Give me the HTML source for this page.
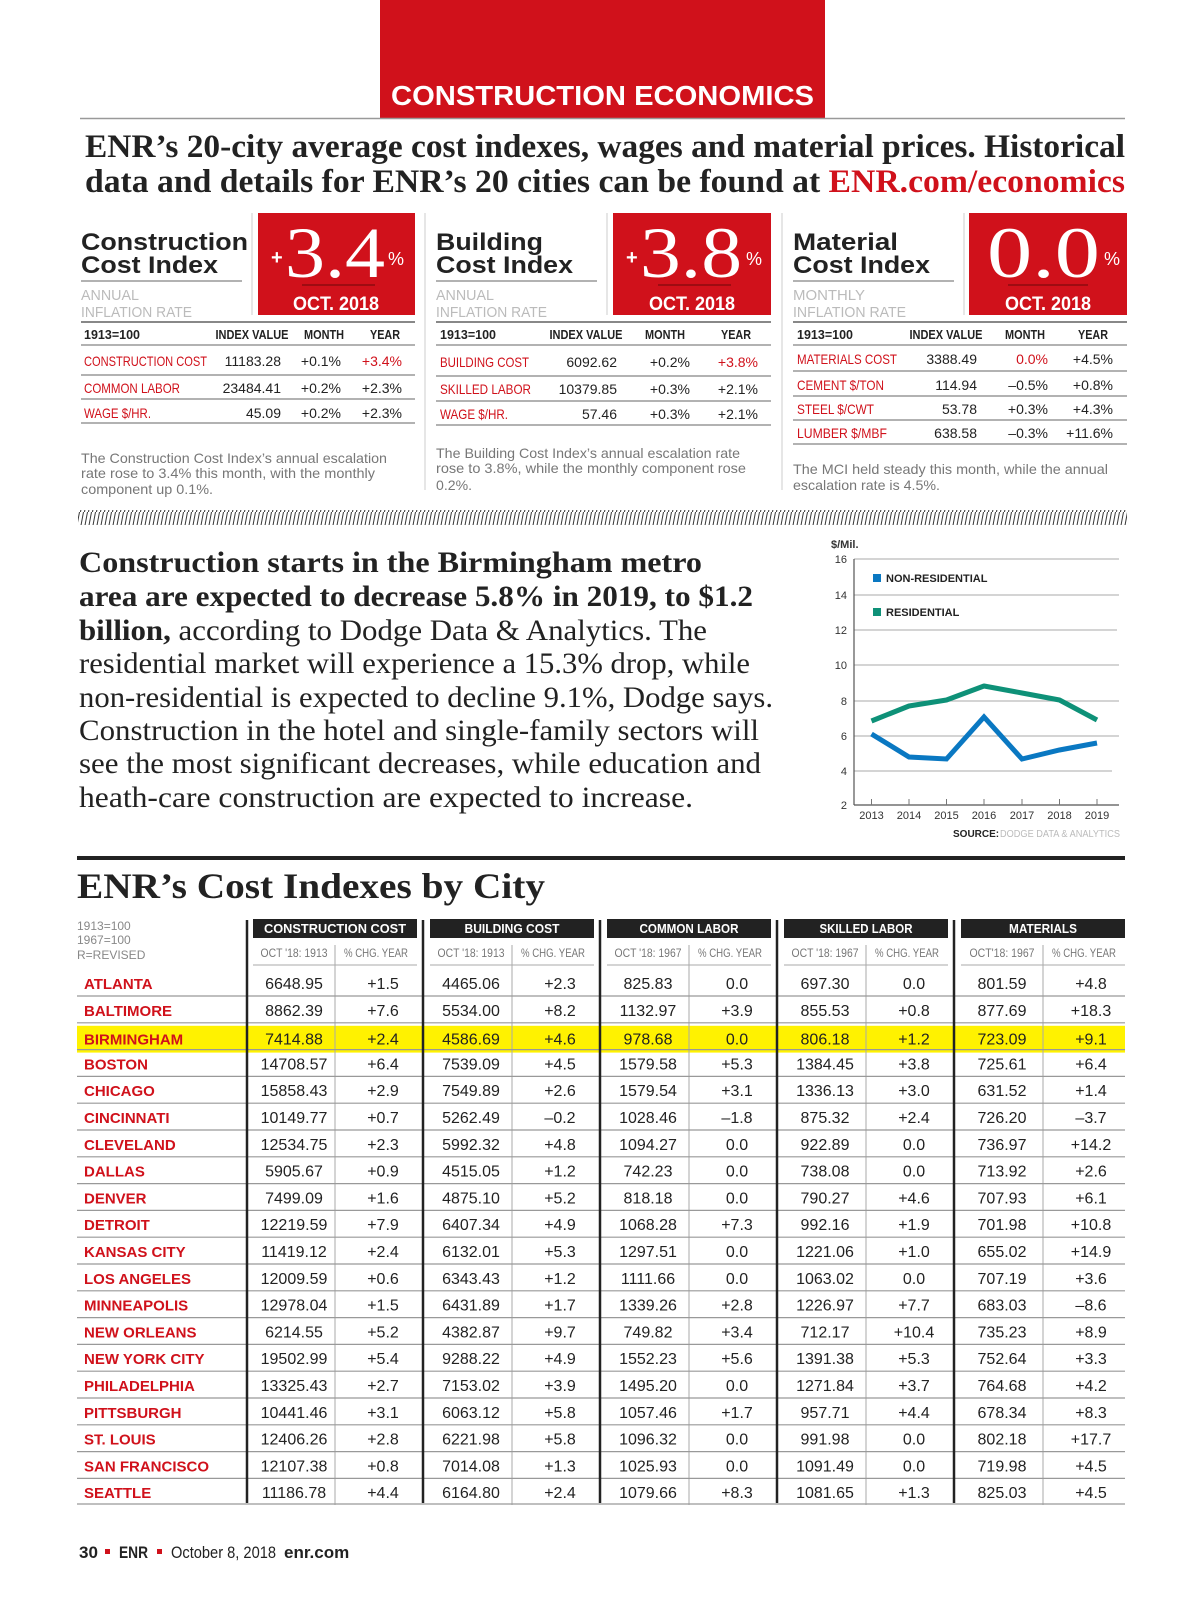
<!DOCTYPE html>
<html><head><meta charset="utf-8">
<style>
html,body{margin:0;padding:0;background:#fff;}
svg{display:block;}
.sb{font-family:"Liberation Sans",sans-serif;font-weight:bold;}
.s{font-family:"Liberation Sans",sans-serif;}
.sf{font-family:"Liberation Serif",serif;}
.num{font-family:"Liberation Sans Narrow","Liberation Sans",sans-serif;font-size:16px;fill:#222;text-anchor:middle;}
.city{font-family:"Liberation Sans Narrow","Liberation Sans",sans-serif;font-weight:bold;font-size:15px;fill:#d0111b;}
.ph{font-family:"Liberation Sans Narrow","Liberation Sans",sans-serif;font-weight:bold;font-size:12.5px;fill:#222;}
.pr{font-family:"Liberation Sans Narrow","Liberation Sans",sans-serif;font-size:14px;fill:#222;text-anchor:end;}
.pl{font-family:"Liberation Sans Narrow","Liberation Sans",sans-serif;font-size:14px;fill:#d0111b;}
.desc{font-family:"Liberation Sans",sans-serif;font-size:14px;fill:#777;}
.sub{font-family:"Liberation Sans Narrow","Liberation Sans",sans-serif;font-size:12px;fill:#777;text-anchor:middle;}
</style></head>
<body>
<svg width="1200" height="1600" viewBox="0 0 1200 1600" xmlns="http://www.w3.org/2000/svg">
<defs>
<pattern id="hatch" width="4" height="16" patternUnits="userSpaceOnUse">
<line x1="0.5" y1="16" x2="3.5" y2="0" stroke="#333" stroke-width="1"/>
</pattern>
</defs>
<rect width="1200" height="1600" fill="#fff"/>

<!-- Header -->
<rect x="380" y="0" width="445" height="118" fill="#d0111b"/>
<text x="391" y="105" class="sb" font-size="28" fill="#fff" textLength="423" lengthAdjust="spacingAndGlyphs">CONSTRUCTION ECONOMICS</text>
<line x1="80" y1="118.5" x2="1125" y2="118.5" stroke="#999" stroke-width="1.5"/>

<text x="85" y="157" class="sf" font-weight="bold" font-size="33" fill="#222" textLength="1040" lengthAdjust="spacingAndGlyphs">ENR’s 20-city average cost indexes, wages and material prices. Historical</text>
<text x="85" y="192" class="sf" font-weight="bold" font-size="33" fill="#222" textLength="1040" lengthAdjust="spacingAndGlyphs">data and details for ENR’s 20 cities can be found at <tspan fill="#d0111b">ENR.com/economics</tspan></text>

<!-- Panel separators -->
<line x1="425" y1="213" x2="425" y2="490" stroke="#ccc"/>
<line x1="782" y1="213" x2="782" y2="490" stroke="#ccc"/>

<!-- Panel 1 -->
<text x="81" y="250" class="sb" font-size="24" fill="#222" textLength="167" lengthAdjust="spacingAndGlyphs">Construction</text>
<text x="81" y="273" class="sb" font-size="24" fill="#222" textLength="137" lengthAdjust="spacingAndGlyphs">Cost Index</text>
<line x1="81" y1="281" x2="242" y2="281" stroke="#999" stroke-width="1.5"/>
<text x="81" y="300" class="s" font-size="15" fill="#bbb" textLength="58" lengthAdjust="spacingAndGlyphs">ANNUAL</text>
<text x="81" y="317" class="s" font-size="15" fill="#bbb" textLength="111" lengthAdjust="spacingAndGlyphs">INFLATION RATE</text>
<line x1="252" y1="213" x2="252" y2="315" stroke="#ccc"/>
<rect x="258" y="213" width="157" height="102" fill="#d0111b"/>
<text x="271" y="264" class="sb" font-size="20" fill="#fff">+</text>
<text x="285" y="277" class="sf" font-size="72" fill="#fff" textLength="100" lengthAdjust="spacingAndGlyphs">3.4</text>
<text x="388" y="265" class="s" font-size="18" fill="#fff">%</text>
<line x1="302" y1="285" x2="375" y2="285" stroke="#8e0a10" stroke-width="1.5"/>
<text x="336" y="310" class="sb" font-size="19" fill="#fff" text-anchor="middle" textLength="86" lengthAdjust="spacingAndGlyphs">OCT. 2018</text>

<line x1="81" y1="322" x2="415" y2="322" stroke="#888" stroke-width="2"/>
<text x="84" y="339" class="ph" textLength="56" lengthAdjust="spacingAndGlyphs">1913=100</text>
<text x="252" y="339" class="ph" text-anchor="middle" textLength="73" lengthAdjust="spacingAndGlyphs">INDEX VALUE</text>
<text x="324" y="339" class="ph" text-anchor="middle" textLength="40" lengthAdjust="spacingAndGlyphs">MONTH</text>
<text x="385" y="339" class="ph" text-anchor="middle" textLength="30" lengthAdjust="spacingAndGlyphs">YEAR</text>
<line x1="81" y1="345" x2="415" y2="345" stroke="#999" stroke-width="1.5"/>
<text x="84" y="366" class="pl" textLength="123" lengthAdjust="spacingAndGlyphs">CONSTRUCTION COST</text><text x="281" y="366" class="pr">11183.28</text><text x="341" y="366" class="pr">+0.1%</text><text x="402" y="366" class="pr" style="fill:#d0111b">+3.4%</text>
<line x1="81" y1="375" x2="415" y2="375" stroke="#999" stroke-width="1.5"/>
<text x="84" y="393" class="pl" textLength="96" lengthAdjust="spacingAndGlyphs">COMMON LABOR</text><text x="281" y="393" class="pr">23484.41</text><text x="341" y="393" class="pr">+0.2%</text><text x="402" y="393" class="pr">+2.3%</text>
<line x1="81" y1="399" x2="415" y2="399" stroke="#999" stroke-width="1.5"/>
<text x="84" y="418" class="pl" textLength="67" lengthAdjust="spacingAndGlyphs">WAGE $/HR.</text><text x="281" y="418" class="pr">45.09</text><text x="341" y="418" class="pr">+0.2%</text><text x="402" y="418" class="pr">+2.3%</text>
<line x1="81" y1="423" x2="415" y2="423" stroke="#999" stroke-width="1.5"/>
<text x="81" y="463" class="desc" textLength="306" lengthAdjust="spacingAndGlyphs">The Construction Cost Index’s annual escalation</text>
<text x="81" y="478" class="desc" textLength="294" lengthAdjust="spacingAndGlyphs">rate rose to 3.4% this month, with the monthly</text>
<text x="81" y="494" class="desc" textLength="132" lengthAdjust="spacingAndGlyphs">component up 0.1%.</text>

<!-- Panel 2 -->
<text x="436" y="250" class="sb" font-size="24" fill="#222" textLength="107" lengthAdjust="spacingAndGlyphs">Building</text>
<text x="436" y="273" class="sb" font-size="24" fill="#222" textLength="137" lengthAdjust="spacingAndGlyphs">Cost Index</text>
<line x1="436" y1="281" x2="597" y2="281" stroke="#999" stroke-width="1.5"/>
<text x="436" y="300" class="s" font-size="15" fill="#bbb" textLength="58" lengthAdjust="spacingAndGlyphs">ANNUAL</text>
<text x="436" y="317" class="s" font-size="15" fill="#bbb" textLength="111" lengthAdjust="spacingAndGlyphs">INFLATION RATE</text>
<line x1="607" y1="213" x2="607" y2="315" stroke="#ccc"/>
<rect x="613" y="213" width="158" height="102" fill="#d0111b"/>
<text x="626" y="264" class="sb" font-size="20" fill="#fff">+</text>
<text x="640" y="277" class="sf" font-size="72" fill="#fff" textLength="102" lengthAdjust="spacingAndGlyphs">3.8</text>
<text x="746" y="265" class="s" font-size="18" fill="#fff">%</text>
<line x1="658" y1="285" x2="731" y2="285" stroke="#8e0a10" stroke-width="1.5"/>
<text x="692" y="310" class="sb" font-size="19" fill="#fff" text-anchor="middle" textLength="86" lengthAdjust="spacingAndGlyphs">OCT. 2018</text>

<line x1="436" y1="322" x2="771" y2="322" stroke="#888" stroke-width="2"/>
<text x="440" y="339" class="ph" textLength="56" lengthAdjust="spacingAndGlyphs">1913=100</text>
<text x="586" y="339" class="ph" text-anchor="middle" textLength="73" lengthAdjust="spacingAndGlyphs">INDEX VALUE</text>
<text x="665" y="339" class="ph" text-anchor="middle" textLength="40" lengthAdjust="spacingAndGlyphs">MONTH</text>
<text x="736" y="339" class="ph" text-anchor="middle" textLength="30" lengthAdjust="spacingAndGlyphs">YEAR</text>
<line x1="436" y1="345" x2="771" y2="345" stroke="#999" stroke-width="1.5"/>
<text x="440" y="367" class="pl" textLength="89" lengthAdjust="spacingAndGlyphs">BUILDING COST</text><text x="617" y="367" class="pr">6092.62</text><text x="690" y="367" class="pr">+0.2%</text><text x="758" y="367" class="pr" style="fill:#d0111b">+3.8%</text>
<line x1="436" y1="376" x2="771" y2="376" stroke="#999" stroke-width="1.5"/>
<text x="440" y="394" class="pl" textLength="91" lengthAdjust="spacingAndGlyphs">SKILLED LABOR</text><text x="617" y="394" class="pr">10379.85</text><text x="690" y="394" class="pr">+0.3%</text><text x="758" y="394" class="pr">+2.1%</text>
<line x1="436" y1="401" x2="771" y2="401" stroke="#999" stroke-width="1.5"/>
<text x="440" y="419" class="pl" textLength="68" lengthAdjust="spacingAndGlyphs">WAGE $/HR.</text><text x="617" y="419" class="pr">57.46</text><text x="690" y="419" class="pr">+0.3%</text><text x="758" y="419" class="pr">+2.1%</text>
<line x1="436" y1="425" x2="771" y2="425" stroke="#999" stroke-width="1.5"/>
<text x="436" y="458" class="desc" textLength="304" lengthAdjust="spacingAndGlyphs">The Building Cost Index’s annual escalation rate</text>
<text x="436" y="473" class="desc" textLength="310" lengthAdjust="spacingAndGlyphs">rose to 3.8%, while the monthly component rose</text>
<text x="436" y="490" class="desc" textLength="36" lengthAdjust="spacingAndGlyphs">0.2%.</text>

<!-- Panel 3 -->
<text x="793" y="250" class="sb" font-size="24" fill="#222" textLength="105" lengthAdjust="spacingAndGlyphs">Material</text>
<text x="793" y="273" class="sb" font-size="24" fill="#222" textLength="137" lengthAdjust="spacingAndGlyphs">Cost Index</text>
<line x1="793" y1="281" x2="954" y2="281" stroke="#999" stroke-width="1.5"/>
<text x="793" y="300" class="s" font-size="15" fill="#bbb" textLength="72" lengthAdjust="spacingAndGlyphs">MONTHLY</text>
<text x="793" y="317" class="s" font-size="15" fill="#bbb" textLength="113" lengthAdjust="spacingAndGlyphs">INFLATION RATE</text>
<line x1="964" y1="213" x2="964" y2="315" stroke="#ccc"/>
<rect x="969" y="213" width="158" height="102" fill="#d0111b"/>
<text x="987" y="277" class="sf" font-size="72" fill="#fff" textLength="113" lengthAdjust="spacingAndGlyphs">0.0</text>
<text x="1104" y="265" class="s" font-size="18" fill="#fff">%</text>
<line x1="1008" y1="285" x2="1088" y2="285" stroke="#8e0a10" stroke-width="1.5"/>
<text x="1048" y="310" class="sb" font-size="19" fill="#fff" text-anchor="middle" textLength="86" lengthAdjust="spacingAndGlyphs">OCT. 2018</text>

<line x1="793" y1="322" x2="1127" y2="322" stroke="#888" stroke-width="2"/>
<text x="797" y="339" class="ph" textLength="56" lengthAdjust="spacingAndGlyphs">1913=100</text>
<text x="946" y="339" class="ph" text-anchor="middle" textLength="73" lengthAdjust="spacingAndGlyphs">INDEX VALUE</text>
<text x="1025" y="339" class="ph" text-anchor="middle" textLength="40" lengthAdjust="spacingAndGlyphs">MONTH</text>
<text x="1093" y="339" class="ph" text-anchor="middle" textLength="30" lengthAdjust="spacingAndGlyphs">YEAR</text>
<line x1="793" y1="345" x2="1127" y2="345" stroke="#999" stroke-width="1.5"/>
<text x="797" y="364" class="pl" textLength="100" lengthAdjust="spacingAndGlyphs">MATERIALS COST</text><text x="977" y="364" class="pr">3388.49</text><text x="1048" y="364" class="pr" style="fill:#d0111b">0.0%</text><text x="1113" y="364" class="pr">+4.5%</text>
<line x1="793" y1="371" x2="1127" y2="371" stroke="#999" stroke-width="1.5"/>
<text x="797" y="390" class="pl" textLength="87" lengthAdjust="spacingAndGlyphs">CEMENT $/TON</text><text x="977" y="390" class="pr">114.94</text><text x="1048" y="390" class="pr">–0.5%</text><text x="1113" y="390" class="pr">+0.8%</text>
<line x1="793" y1="396" x2="1127" y2="396" stroke="#999" stroke-width="1.5"/>
<text x="797" y="414" class="pl" textLength="77" lengthAdjust="spacingAndGlyphs">STEEL $/CWT</text><text x="977" y="414" class="pr">53.78</text><text x="1048" y="414" class="pr">+0.3%</text><text x="1113" y="414" class="pr">+4.3%</text>
<line x1="793" y1="420" x2="1127" y2="420" stroke="#999" stroke-width="1.5"/>
<text x="797" y="438" class="pl" textLength="90" lengthAdjust="spacingAndGlyphs">LUMBER $/MBF</text><text x="977" y="438" class="pr">638.58</text><text x="1048" y="438" class="pr">–0.3%</text><text x="1113" y="438" class="pr">+11.6%</text>
<line x1="793" y1="444" x2="1127" y2="444" stroke="#999" stroke-width="1.5"/>
<text x="793" y="474" class="desc" textLength="315" lengthAdjust="spacingAndGlyphs">The MCI held steady this month, while the annual</text>
<text x="793" y="490" class="desc" textLength="147" lengthAdjust="spacingAndGlyphs">escalation rate is 4.5%.</text>

<!-- Hatch -->
<rect x="78" y="510" width="1049" height="15" fill="url(#hatch)"/>

<!-- Paragraph -->
<g class="sf" font-size="30" fill="#222">
<text x="79" y="572" font-weight="bold" textLength="623" lengthAdjust="spacingAndGlyphs">Construction starts in the Birmingham metro</text>
<text x="79" y="606" font-weight="bold" textLength="674" lengthAdjust="spacingAndGlyphs">area are expected to decrease 5.8% in 2019, to $1.2</text>
<text x="79" y="640" textLength="628" lengthAdjust="spacingAndGlyphs"><tspan font-weight="bold">billion,</tspan> according to Dodge Data &amp; Analytics. The</text>
<text x="79" y="673" textLength="671" lengthAdjust="spacingAndGlyphs">residential market will experience a 15.3% drop, while</text>
<text x="79" y="707" textLength="694" lengthAdjust="spacingAndGlyphs">non-residential is expected to decline 9.1%, Dodge says.</text>
<text x="79" y="740" textLength="680" lengthAdjust="spacingAndGlyphs">Construction in the hotel and single-family sectors will</text>
<text x="79" y="773" textLength="682" lengthAdjust="spacingAndGlyphs">see the most significant decreases, while education and</text>
<text x="79" y="807" textLength="614" lengthAdjust="spacingAndGlyphs">heath-care construction are expected to increase.</text>
</g>

<!-- Chart -->
<text x="831" y="548" class="sb" font-size="11" fill="#333">$/Mil.</text>
<g stroke="#bbb" stroke-width="1.2">
<line x1="854" y1="559" x2="1119" y2="559"/>
<line x1="854" y1="595" x2="1119" y2="595"/>
<line x1="854" y1="630" x2="1117" y2="630"/>
<line x1="854" y1="665" x2="1119" y2="665"/>
<line x1="854" y1="701" x2="1119" y2="701"/>
<line x1="854" y1="736" x2="1119" y2="736"/>
<line x1="854" y1="771" x2="1112" y2="771"/>
</g>
<line x1="854" y1="559" x2="854" y2="805" stroke="#555" stroke-width="1.2"/>
<line x1="854" y1="805" x2="1119" y2="805" stroke="#555" stroke-width="1.2"/>
<g stroke="#777" stroke-width="1">
<line x1="871.5" y1="799" x2="871.5" y2="805"/><line x1="909" y1="799" x2="909" y2="805"/><line x1="946.5" y1="799" x2="946.5" y2="805"/><line x1="984" y1="799" x2="984" y2="805"/><line x1="1022" y1="799" x2="1022" y2="805"/><line x1="1059.5" y1="799" x2="1059.5" y2="805"/><line x1="1097" y1="799" x2="1097" y2="805"/>
</g>
<g class="s" font-size="11" fill="#333" text-anchor="end">
<text x="847" y="563">16</text><text x="847" y="599">14</text><text x="847" y="634">12</text><text x="847" y="669">10</text><text x="847" y="705">8</text><text x="847" y="740">6</text><text x="847" y="775">4</text><text x="847" y="809">2</text>
</g>
<g class="s" font-size="11" fill="#333" text-anchor="middle">
<text x="871.5" y="819">2013</text><text x="909" y="819">2014</text><text x="946.5" y="819">2015</text><text x="984" y="819">2016</text><text x="1022" y="819">2017</text><text x="1059.5" y="819">2018</text><text x="1097" y="819">2019</text>
</g>
<rect x="873" y="574" width="8" height="8" fill="#0a78c2"/>
<text x="886" y="582" class="sb" font-size="11" fill="#222">NON-RESIDENTIAL</text>
<rect x="873" y="608" width="8" height="8" fill="#0e9178"/>
<text x="886" y="616" class="sb" font-size="11" fill="#222">RESIDENTIAL</text>
<polyline points="871.5,721 909,706 946.5,700 984,686 1022,693 1059.5,700 1097,720" fill="none" stroke="#0e9178" stroke-width="5" stroke-linejoin="round"/>
<polyline points="871.5,734 909,757 946.5,759 984,717 1022,759 1059.5,750 1097,743" fill="none" stroke="#0a78c2" stroke-width="5" stroke-linejoin="miter"/>
<text x="953" y="837" class="sb" font-size="10" fill="#222">SOURCE:</text>
<text x="1000" y="837" class="s" font-size="10" fill="#bbb" textLength="120" lengthAdjust="spacingAndGlyphs">DODGE DATA &amp; ANALYTICS</text>

<!-- City table -->
<rect x="77" y="856" width="1048" height="4" fill="#222"/>
<text x="77" y="898" class="sf" font-weight="bold" font-size="36" fill="#222" textLength="468" lengthAdjust="spacingAndGlyphs">ENR’s Cost Indexes by City</text>
<g class="s" font-size="12" fill="#888">
<text x="77" y="930">1913=100</text><text x="77" y="944">1967=100</text><text x="77" y="959">R=REVISED</text>
</g>

<rect x="77" y="1025.8" width="1048" height="26.8" fill="#fff200"/>

<g fill="#222">
<rect x="253" y="919" width="164" height="19"/><rect x="430" y="919" width="164" height="19"/><rect x="607" y="919" width="164" height="19"/><rect x="784" y="919" width="164" height="19"/><rect x="961" y="919" width="164" height="19"/>
</g>
<g class="sb" font-size="12.5" fill="#fff" text-anchor="middle">
<text x="335" y="933" textLength="142" lengthAdjust="spacingAndGlyphs">CONSTRUCTION COST</text><text x="512" y="933" textLength="95" lengthAdjust="spacingAndGlyphs">BUILDING COST</text><text x="689" y="933" textLength="99" lengthAdjust="spacingAndGlyphs">COMMON LABOR</text><text x="866" y="933" textLength="93" lengthAdjust="spacingAndGlyphs">SKILLED LABOR</text><text x="1043" y="933" textLength="68" lengthAdjust="spacingAndGlyphs">MATERIALS</text>
</g>
<g>
<text x="294" y="957" class="sub" textLength="67" lengthAdjust="spacingAndGlyphs">OCT '18: 1913</text><text x="376" y="957" class="sub" textLength="64" lengthAdjust="spacingAndGlyphs">% CHG. YEAR</text>
<text x="471" y="957" class="sub" textLength="67" lengthAdjust="spacingAndGlyphs">OCT '18: 1913</text><text x="553" y="957" class="sub" textLength="64" lengthAdjust="spacingAndGlyphs">% CHG. YEAR</text>
<text x="648" y="957" class="sub" textLength="67" lengthAdjust="spacingAndGlyphs">OCT '18: 1967</text><text x="730" y="957" class="sub" textLength="64" lengthAdjust="spacingAndGlyphs">% CHG. YEAR</text>
<text x="825" y="957" class="sub" textLength="67" lengthAdjust="spacingAndGlyphs">OCT '18: 1967</text><text x="907" y="957" class="sub" textLength="64" lengthAdjust="spacingAndGlyphs">% CHG. YEAR</text>
<text x="1002" y="957" class="sub" textLength="65" lengthAdjust="spacingAndGlyphs">OCT'18: 1967</text><text x="1084" y="957" class="sub" textLength="64" lengthAdjust="spacingAndGlyphs">% CHG. YEAR</text>
</g>
<g stroke="#aaa" stroke-width="1">
<line x1="253" y1="965" x2="417" y2="965"/><line x1="430" y1="965" x2="594" y2="965"/><line x1="607" y1="965" x2="771" y2="965"/><line x1="784" y1="965" x2="948" y2="965"/><line x1="961" y1="965" x2="1125" y2="965"/>
<line x1="335" y1="945" x2="335" y2="1505"/><line x1="512" y1="945" x2="512" y2="1505"/><line x1="689" y1="945" x2="689" y2="1505"/><line x1="866" y1="945" x2="866" y2="1505"/><line x1="1043" y1="945" x2="1043" y2="1505"/>
</g>
<g stroke="#999" stroke-width="1.2">
<line x1="77" y1="996" x2="1125" y2="996"/><line x1="77" y1="1022.8" x2="1125" y2="1022.8"/><line x1="77" y1="1049.6" x2="1125" y2="1049.6"/><line x1="77" y1="1076.4" x2="1125" y2="1076.4"/><line x1="77" y1="1103.2" x2="1125" y2="1103.2"/><line x1="77" y1="1130" x2="1125" y2="1130"/><line x1="77" y1="1156.8" x2="1125" y2="1156.8"/><line x1="77" y1="1183.6" x2="1125" y2="1183.6"/><line x1="77" y1="1210.4" x2="1125" y2="1210.4"/><line x1="77" y1="1237.2" x2="1125" y2="1237.2"/><line x1="77" y1="1264" x2="1125" y2="1264"/><line x1="77" y1="1290.8" x2="1125" y2="1290.8"/><line x1="77" y1="1317.6" x2="1125" y2="1317.6"/><line x1="77" y1="1344.4" x2="1125" y2="1344.4"/><line x1="77" y1="1371.2" x2="1125" y2="1371.2"/><line x1="77" y1="1398" x2="1125" y2="1398"/><line x1="77" y1="1424.8" x2="1125" y2="1424.8"/><line x1="77" y1="1451.6" x2="1125" y2="1451.6"/><line x1="77" y1="1478.4" x2="1125" y2="1478.4"/><line x1="77" y1="1504" x2="1125" y2="1504"/>
</g>
<g stroke="#222" stroke-width="2.5">
<line x1="247" y1="920" x2="247" y2="1503"/><line x1="423" y1="920" x2="423" y2="1503"/><line x1="600" y1="920" x2="600" y2="1503"/><line x1="777" y1="920" x2="777" y2="1503"/><line x1="954" y1="920" x2="954" y2="1503"/>
</g>

<g transform="translate(0,989)"><text x="84" class="city">ATLANTA</text><text x="294" class="num">6648.95</text><text x="383" class="num">+1.5</text><text x="471" class="num">4465.06</text><text x="560" class="num">+2.3</text><text x="648" class="num">825.83</text><text x="737" class="num">0.0</text><text x="825" class="num">697.30</text><text x="914" class="num">0.0</text><text x="1002" class="num">801.59</text><text x="1091" class="num">+4.8</text></g>
<g transform="translate(0,1015.8)"><text x="84" class="city">BALTIMORE</text><text x="294" class="num">8862.39</text><text x="383" class="num">+7.6</text><text x="471" class="num">5534.00</text><text x="560" class="num">+8.2</text><text x="648" class="num">1132.97</text><text x="737" class="num">+3.9</text><text x="825" class="num">855.53</text><text x="914" class="num">+0.8</text><text x="1002" class="num">877.69</text><text x="1091" class="num">+18.3</text></g>
<g transform="translate(0,1044.6)"><text x="84" class="city">BIRMINGHAM</text><text x="294" class="num">7414.88</text><text x="383" class="num">+2.4</text><text x="471" class="num">4586.69</text><text x="560" class="num">+4.6</text><text x="648" class="num">978.68</text><text x="737" class="num">0.0</text><text x="825" class="num">806.18</text><text x="914" class="num">+1.2</text><text x="1002" class="num">723.09</text><text x="1091" class="num">+9.1</text></g>
<g transform="translate(0,1069.4)"><text x="84" class="city">BOSTON</text><text x="294" class="num">14708.57</text><text x="383" class="num">+6.4</text><text x="471" class="num">7539.09</text><text x="560" class="num">+4.5</text><text x="648" class="num">1579.58</text><text x="737" class="num">+5.3</text><text x="825" class="num">1384.45</text><text x="914" class="num">+3.8</text><text x="1002" class="num">725.61</text><text x="1091" class="num">+6.4</text></g>
<g transform="translate(0,1096.2)"><text x="84" class="city">CHICAGO</text><text x="294" class="num">15858.43</text><text x="383" class="num">+2.9</text><text x="471" class="num">7549.89</text><text x="560" class="num">+2.6</text><text x="648" class="num">1579.54</text><text x="737" class="num">+3.1</text><text x="825" class="num">1336.13</text><text x="914" class="num">+3.0</text><text x="1002" class="num">631.52</text><text x="1091" class="num">+1.4</text></g>
<g transform="translate(0,1123)"><text x="84" class="city">CINCINNATI</text><text x="294" class="num">10149.77</text><text x="383" class="num">+0.7</text><text x="471" class="num">5262.49</text><text x="560" class="num">–0.2</text><text x="648" class="num">1028.46</text><text x="737" class="num">–1.8</text><text x="825" class="num">875.32</text><text x="914" class="num">+2.4</text><text x="1002" class="num">726.20</text><text x="1091" class="num">–3.7</text></g>
<g transform="translate(0,1149.8)"><text x="84" class="city">CLEVELAND</text><text x="294" class="num">12534.75</text><text x="383" class="num">+2.3</text><text x="471" class="num">5992.32</text><text x="560" class="num">+4.8</text><text x="648" class="num">1094.27</text><text x="737" class="num">0.0</text><text x="825" class="num">922.89</text><text x="914" class="num">0.0</text><text x="1002" class="num">736.97</text><text x="1091" class="num">+14.2</text></g>
<g transform="translate(0,1176.6)"><text x="84" class="city">DALLAS</text><text x="294" class="num">5905.67</text><text x="383" class="num">+0.9</text><text x="471" class="num">4515.05</text><text x="560" class="num">+1.2</text><text x="648" class="num">742.23</text><text x="737" class="num">0.0</text><text x="825" class="num">738.08</text><text x="914" class="num">0.0</text><text x="1002" class="num">713.92</text><text x="1091" class="num">+2.6</text></g>
<g transform="translate(0,1203.4)"><text x="84" class="city">DENVER</text><text x="294" class="num">7499.09</text><text x="383" class="num">+1.6</text><text x="471" class="num">4875.10</text><text x="560" class="num">+5.2</text><text x="648" class="num">818.18</text><text x="737" class="num">0.0</text><text x="825" class="num">790.27</text><text x="914" class="num">+4.6</text><text x="1002" class="num">707.93</text><text x="1091" class="num">+6.1</text></g>
<g transform="translate(0,1230.2)"><text x="84" class="city">DETROIT</text><text x="294" class="num">12219.59</text><text x="383" class="num">+7.9</text><text x="471" class="num">6407.34</text><text x="560" class="num">+4.9</text><text x="648" class="num">1068.28</text><text x="737" class="num">+7.3</text><text x="825" class="num">992.16</text><text x="914" class="num">+1.9</text><text x="1002" class="num">701.98</text><text x="1091" class="num">+10.8</text></g>
<g transform="translate(0,1257)"><text x="84" class="city">KANSAS CITY</text><text x="294" class="num">11419.12</text><text x="383" class="num">+2.4</text><text x="471" class="num">6132.01</text><text x="560" class="num">+5.3</text><text x="648" class="num">1297.51</text><text x="737" class="num">0.0</text><text x="825" class="num">1221.06</text><text x="914" class="num">+1.0</text><text x="1002" class="num">655.02</text><text x="1091" class="num">+14.9</text></g>
<g transform="translate(0,1283.8)"><text x="84" class="city">LOS ANGELES</text><text x="294" class="num">12009.59</text><text x="383" class="num">+0.6</text><text x="471" class="num">6343.43</text><text x="560" class="num">+1.2</text><text x="648" class="num">1111.66</text><text x="737" class="num">0.0</text><text x="825" class="num">1063.02</text><text x="914" class="num">0.0</text><text x="1002" class="num">707.19</text><text x="1091" class="num">+3.6</text></g>
<g transform="translate(0,1310.6)"><text x="84" class="city">MINNEAPOLIS</text><text x="294" class="num">12978.04</text><text x="383" class="num">+1.5</text><text x="471" class="num">6431.89</text><text x="560" class="num">+1.7</text><text x="648" class="num">1339.26</text><text x="737" class="num">+2.8</text><text x="825" class="num">1226.97</text><text x="914" class="num">+7.7</text><text x="1002" class="num">683.03</text><text x="1091" class="num">–8.6</text></g>
<g transform="translate(0,1337.4)"><text x="84" class="city">NEW ORLEANS</text><text x="294" class="num">6214.55</text><text x="383" class="num">+5.2</text><text x="471" class="num">4382.87</text><text x="560" class="num">+9.7</text><text x="648" class="num">749.82</text><text x="737" class="num">+3.4</text><text x="825" class="num">712.17</text><text x="914" class="num">+10.4</text><text x="1002" class="num">735.23</text><text x="1091" class="num">+8.9</text></g>
<g transform="translate(0,1364.2)"><text x="84" class="city">NEW YORK CITY</text><text x="294" class="num">19502.99</text><text x="383" class="num">+5.4</text><text x="471" class="num">9288.22</text><text x="560" class="num">+4.9</text><text x="648" class="num">1552.23</text><text x="737" class="num">+5.6</text><text x="825" class="num">1391.38</text><text x="914" class="num">+5.3</text><text x="1002" class="num">752.64</text><text x="1091" class="num">+3.3</text></g>
<g transform="translate(0,1391)"><text x="84" class="city">PHILADELPHIA</text><text x="294" class="num">13325.43</text><text x="383" class="num">+2.7</text><text x="471" class="num">7153.02</text><text x="560" class="num">+3.9</text><text x="648" class="num">1495.20</text><text x="737" class="num">0.0</text><text x="825" class="num">1271.84</text><text x="914" class="num">+3.7</text><text x="1002" class="num">764.68</text><text x="1091" class="num">+4.2</text></g>
<g transform="translate(0,1417.8)"><text x="84" class="city">PITTSBURGH</text><text x="294" class="num">10441.46</text><text x="383" class="num">+3.1</text><text x="471" class="num">6063.12</text><text x="560" class="num">+5.8</text><text x="648" class="num">1057.46</text><text x="737" class="num">+1.7</text><text x="825" class="num">957.71</text><text x="914" class="num">+4.4</text><text x="1002" class="num">678.34</text><text x="1091" class="num">+8.3</text></g>
<g transform="translate(0,1444.6)"><text x="84" class="city">ST. LOUIS</text><text x="294" class="num">12406.26</text><text x="383" class="num">+2.8</text><text x="471" class="num">6221.98</text><text x="560" class="num">+5.8</text><text x="648" class="num">1096.32</text><text x="737" class="num">0.0</text><text x="825" class="num">991.98</text><text x="914" class="num">0.0</text><text x="1002" class="num">802.18</text><text x="1091" class="num">+17.7</text></g>
<g transform="translate(0,1471.4)"><text x="84" class="city">SAN FRANCISCO</text><text x="294" class="num">12107.38</text><text x="383" class="num">+0.8</text><text x="471" class="num">7014.08</text><text x="560" class="num">+1.3</text><text x="648" class="num">1025.93</text><text x="737" class="num">0.0</text><text x="825" class="num">1091.49</text><text x="914" class="num">0.0</text><text x="1002" class="num">719.98</text><text x="1091" class="num">+4.5</text></g>
<g transform="translate(0,1498.2)"><text x="84" class="city">SEATTLE</text><text x="294" class="num">11186.78</text><text x="383" class="num">+4.4</text><text x="471" class="num">6164.80</text><text x="560" class="num">+2.4</text><text x="648" class="num">1079.66</text><text x="737" class="num">+8.3</text><text x="825" class="num">1081.65</text><text x="914" class="num">+1.3</text><text x="1002" class="num">825.03</text><text x="1091" class="num">+4.5</text></g>

<!-- Footer -->
<g font-size="17" fill="#222">
<text x="79" y="1558" class="sb">30</text>
<rect x="105" y="1549" width="5" height="5" fill="#d0111b"/>
<text x="119" y="1558" class="sb" textLength="29" lengthAdjust="spacingAndGlyphs">ENR</text>
<rect x="157" y="1549" width="5" height="5" fill="#d0111b"/>
<text x="171" y="1558" class="s" textLength="105" lengthAdjust="spacingAndGlyphs">October 8, 2018</text>
<text x="284" y="1558" class="sb">enr.com</text>
</g>
</svg>
</body></html>
